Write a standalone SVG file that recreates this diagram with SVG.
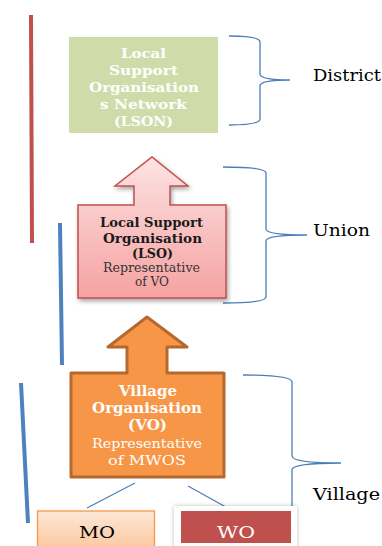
<svg xmlns="http://www.w3.org/2000/svg" width="382" height="546" viewBox="0 0 382 546">
<defs>
<linearGradient id="gLso" x1="0" y1="0" x2="0" y2="1">
<stop offset="0" stop-color="#fde3e3"/>
<stop offset="1" stop-color="#f5a2a1"/>
</linearGradient>
<linearGradient id="gMo" x1="0" y1="0" x2="0" y2="1">
<stop offset="0" stop-color="#fde8d8"/>
<stop offset="1" stop-color="#fbc69c"/>
</linearGradient>
<filter id="sh" x="-20%" y="-20%" width="140%" height="140%">
<feDropShadow dx="1.5" dy="2.5" stdDeviation="2" flood-color="#000" flood-opacity="0.35"/>
</filter>
<filter id="sh2" x="-20%" y="-20%" width="140%" height="140%">
<feDropShadow dx="0" dy="0" stdDeviation="2" flood-color="#000" flood-opacity="0.25"/>
</filter>
</defs>
<style>
.bar{fill:none;stroke-width:4}
.brace{fill:none;stroke:#4a7ebb;stroke-width:1.3}
.conn{fill:none;stroke:#4a7ebb;stroke-width:1.2}
.lvl{font-family:"DejaVu Serif","Liberation Serif",serif;font-size:17px;fill:#000}
.b{font-family:"DejaVu Serif","Liberation Serif",serif;font-weight:bold;text-anchor:middle}
.r{font-family:"DejaVu Serif","Liberation Serif",serif;text-anchor:middle}
</style>
<rect width="382" height="546" fill="#fff"/>
<g id="side-bars">
<line class="bar" x1="31" y1="15" x2="32" y2="243" stroke="#c0504d"/>
<line class="bar" x1="60" y1="223" x2="62" y2="365" stroke="#4f81bd"/>
<line class="bar" x1="21" y1="383" x2="28" y2="523" stroke="#4f81bd"/>
</g>
<g id="connectors">
<line class="conn" x1="135" y1="483" x2="87" y2="508"/>
<line class="conn" x1="188" y1="486" x2="233" y2="511"/>
<path class="brace" d="M229,36 Q260,36 260,42 L260,74 Q260,80 290,80 Q260,80 260,86 L260,119 Q260,125 229,125"/>
<path class="brace" d="M223,167 Q266,167 266,173 L266,229 Q266,235 307,235 Q266,235 266,241 L266,297 Q266,303 223,303"/>
<path class="brace" d="M243,375 Q292,375 292,382 L292,456 Q292,463 341,463 Q292,463 292,470 L292,546"/>
</g>
<g id="lson">
<rect x="69" y="37" width="149" height="96" fill="#cfdcaa"/>
<g class="b" font-size="13.4" fill="#fff">
<text x="143.5" y="57.5" textLength="45" lengthAdjust="spacingAndGlyphs">Local</text>
<text x="143.5" y="74.5" textLength="69" lengthAdjust="spacingAndGlyphs">Support</text>
<text x="144" y="92" textLength="110" lengthAdjust="spacingAndGlyphs">Organisation</text>
<text x="143.5" y="109" textLength="87" lengthAdjust="spacingAndGlyphs">s Network</text>
<text x="143.5" y="126" textLength="59" lengthAdjust="spacingAndGlyphs">(LSON)</text>
</g>
</g>
<g id="lso">
<path d="M78,205 L134,205 L134,186 L115,186 L152,157 L188,186 L170,186 L170,205 L226,205 L226,298 L78,298 Z" fill="url(#gLso)" stroke="#c0504d" stroke-width="1.5" filter="url(#sh)"/>
<g class="b" font-size="12.4" fill="#1a1a1a">
<text x="151.5" y="226.5" textLength="103" lengthAdjust="spacingAndGlyphs">Local Support</text>
<text x="152.5" y="242.5" textLength="99" lengthAdjust="spacingAndGlyphs">Organisation</text>
<text x="152.5" y="257.5" textLength="41" lengthAdjust="spacingAndGlyphs">(LSO)</text>
</g>
<g class="r" font-size="12.8" fill="#333">
<text x="151.5" y="271.5" textLength="97" lengthAdjust="spacingAndGlyphs">Representative</text>
<text x="152" y="286" textLength="34" lengthAdjust="spacingAndGlyphs">of VO</text>
</g>
</g>
<g id="vo">
<path d="M71,373 L127,373 L127,347 L108,347 L147,317 L187,347 L167,347 L167,373 L224,373 L224,477 L71,477 Z" fill="#f79646" stroke="#b5692f" stroke-width="3" stroke-linejoin="round"/>
<g class="b" font-size="14" fill="#fff">
<text x="148" y="396" textLength="58" lengthAdjust="spacingAndGlyphs">Village</text>
<text x="147" y="413" textLength="110" lengthAdjust="spacingAndGlyphs">Organisation</text>
<text x="147.5" y="430" textLength="39" lengthAdjust="spacingAndGlyphs">(VO)</text>
</g>
<g class="r" font-size="13.8" fill="#fff">
<text x="147" y="447.5" textLength="110" lengthAdjust="spacingAndGlyphs">Representative</text>
<text x="147" y="465" textLength="78" lengthAdjust="spacingAndGlyphs">of MWOS</text>
</g>
</g>
<g id="mo">
<rect x="37.5" y="511" width="117" height="40" fill="url(#gMo)" stroke="#f79646" stroke-width="1.3"/>
<text class="r" x="97" y="537.5" font-size="17" fill="#000" textLength="36" lengthAdjust="spacingAndGlyphs">MO</text>
</g>
<g id="wo">
<rect x="174" y="506" width="123" height="45" fill="#fff" filter="url(#sh2)"/>
<rect x="181" y="511" width="110" height="32" fill="#c0504d"/>
<text class="r" x="236" y="537.5" font-size="17" fill="#fff" textLength="38" lengthAdjust="spacingAndGlyphs">WO</text>
</g>
<g id="levels">
<text class="lvl" x="313" y="81" textLength="68" lengthAdjust="spacingAndGlyphs">District</text>
<text class="lvl" x="313" y="236" textLength="57" lengthAdjust="spacingAndGlyphs">Union</text>
<text class="lvl" x="313" y="499.5" textLength="67" lengthAdjust="spacingAndGlyphs">Village</text>
</g>
</svg>
